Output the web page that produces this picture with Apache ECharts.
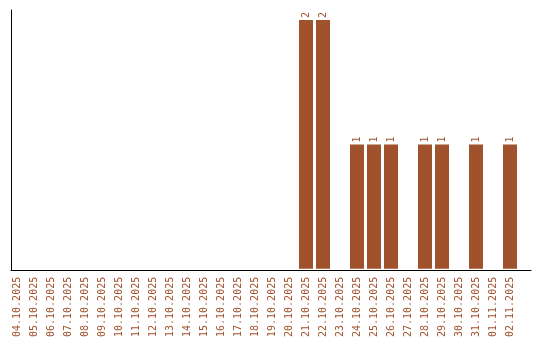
<!DOCTYPE html>
<html>
<head>
<meta charset="utf-8">
<script src="https://cdn.jsdelivr.net/npm/echarts@6/dist/echarts.min.js"></script>
<style>html,body{margin:0;padding:0;background:#fff}#c{width:540px;height:340px}</style>
</head>
<body>
<div id="c"></div>
<script>
const categories = ['04.10.2025','05.10.2025','06.10.2025','07.10.2025','08.10.2025','09.10.2025','10.10.2025','11.10.2025','12.10.2025','13.10.2025','14.10.2025','15.10.2025','16.10.2025','17.10.2025','18.10.2025','19.10.2025','20.10.2025','21.10.2025','22.10.2025','23.10.2025','24.10.2025','25.10.2025','26.10.2025','27.10.2025','28.10.2025','29.10.2025','30.10.2025','31.10.2025','01.11.2025','02.11.2025'];
const values = [0,0,0,0,0,0,0,0,0,0,0,0,0,0,0,0,0,2,2,0,1,1,1,0,1,1,0,1,0,1];
const yMax = 2;

const color = '#A0522D';
const font = 'DejaVu Sans Mono';
const chart = echarts.init(document.getElementById('c'), null, {renderer:'canvas'});
chart.setOption({
  animation: false,
  grid: [
    {left: 8.5, width: 510, top: 20, bottom: 70},
    {left: 11, right: 9, top: 10, bottom: 70}
  ],
  xAxis: [
    {type:'category', gridIndex:0, data: categories,
     axisLine:{show:false}, axisTick:{show:false},
     axisLabel:{rotate:90, interval:0, color: color, fontFamily: font, fontSize:10, margin:8}},
    {type:'value', gridIndex:1, show:true, axisLine:{show:true, lineStyle:{color:'#000', width:1}},
     axisTick:{show:false}, axisLabel:{show:false}, splitLine:{show:false}}
  ],
  yAxis: [
    {type:'value', gridIndex:0, min:0, max:yMax, show:false, splitLine:{show:false}},
    {type:'value', gridIndex:1, show:true, axisLine:{show:true, lineStyle:{color:'#000', width:1}},
     axisTick:{show:false}, axisLabel:{show:false}, splitLine:{show:false}}
  ],
  series: [{
    type:'bar', xAxisIndex:0, yAxisIndex:0, data: values, barWidth:14,
    itemStyle:{color: color},
    label:{show:true, position:'top', rotate:90, align:'left', verticalAlign:'middle', distance:2,
      color: color, fontFamily: font, fontSize:10,
      formatter: p => p.value ? String(p.value) : ''}
  }]
});
</script>
</body>
</html>
